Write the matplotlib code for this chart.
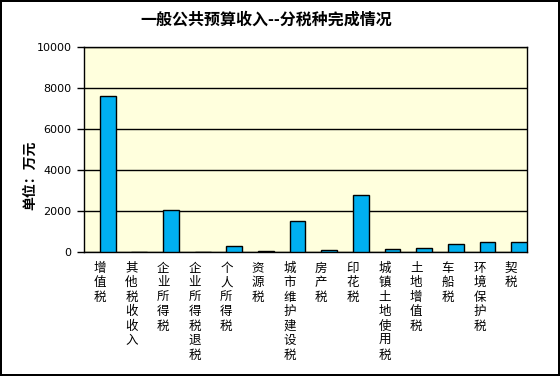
import matplotlib.pyplot as plt
import numpy as np

plt.rcParams['font.family'] = ['Noto Sans CJK SC', 'DejaVu Sans']

categories = ['增值税', '其他税收收入', '企业所得税', '企业所得税退税', '个人所得税', '资源税',
              '城市维护建设税', '房产税', '印花税', '城镇土地使用税', '土地增值税', '车船税',
              '环境保护税', '契税']
values = [7600, 0, 2030, 0, 290, 50, 1510, 90, 2780, 130, 180, 380, 470, 470]
yticks = [0, 2000, 4000, 6000, 8000, 10000]

fig = plt.figure(figsize=(5.6, 3.76), dpi=100)
fig.patch.set_facecolor('white')
fig.patch.set_edgecolor('black')
fig.patch.set_linewidth(1.5)

ax = fig.add_axes([0.15, 0.33, 0.791, 0.545])
ax.set_facecolor('#FFFFDD')

x = np.arange(len(categories))
# bars start at the category centre (Excel-style two-slot layout)
ax.bar(x, values, width=0.5, align='edge', color='#00B0F0', edgecolor='black',
       linewidth=1, zorder=3)

ax.set_xlim(-0.5, len(categories) - 0.5)
ax.set_ylim(0, 10000)
ax.set_yticks(yticks)
ax.set_yticklabels([str(t) for t in yticks], fontsize=8, family='DejaVu Sans')
ax.yaxis.grid(True, color='black', linewidth=1, zorder=1)
ax.tick_params(axis='y', length=5, width=1, pad=4)

ax.set_xticks(x)
ax.set_xticklabels(['\n'.join(c) for c in categories], fontsize=9, linespacing=1.15,
                   va='top')
ax.tick_params(axis='x', length=0, pad=7)

for s in ax.spines.values():
    s.set_linewidth(1)
    s.set_color('black')

ax.set_ylabel('单位：万元', fontsize=10, fontweight='bold')
ax.yaxis.set_label_coords(-0.105, 0.375)
fig.suptitle('一般公共预算收入--分税种完成情况', fontsize=11.5, fontweight='bold',
             x=0.475, y=0.97)

fig.savefig('out.png', dpi=100, edgecolor=fig.get_edgecolor())
